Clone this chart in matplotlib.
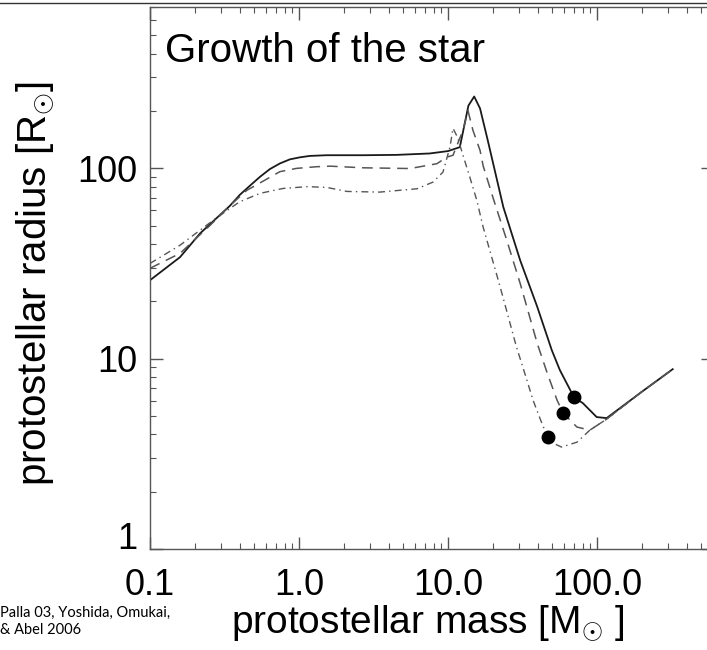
import matplotlib
matplotlib.use("Agg")
import matplotlib.pyplot as plt
from matplotlib.ticker import FixedLocator, FixedFormatter, NullFormatter, LogLocator
from matplotlib.lines import Line2D

plt.rcParams['font.family'] = ['Liberation Sans', 'DejaVu Sans']
plt.rcParams['mathtext.fontset'] = 'custom'
plt.rcParams['mathtext.rm'] = 'Liberation Sans'
plt.rcParams['mathtext.it'] = 'Liberation Sans:italic'

# ---- data ----
solid_mass = [0.1, 0.159, 0.217, 0.344, 0.401, 0.469, 0.548, 0.637, 0.744, 0.869, 1.01,
              1.18, 1.53, 2.69, 4.53, 7.53, 10.0, 12.0, 13.7, 14.98, 16.4, 18.4, 23.5,
              30.5, 39.7, 49.7, 56.3, 70, 80.4, 99.5, 116, 200, 322]
solid_radius = [25.8, 34.1, 45.5, 63.5, 72.5, 81, 90.2, 98.9, 105.9, 111.3, 114,
                116, 117, 117, 117.5, 119.5, 123, 129, 213, 238, 206, 142, 62.5,
                32.8, 18.7, 11.07, 8.7, 6.27, 5.83, 4.93, 4.87, 6.7, 8.8]

dashed_mass = [0.1, 0.159, 0.253, 0.345, 0.446, 0.591, 0.744, 0.963, 1.31, 1.62, 2.69,
               5.56, 8.42, 9.81, 10.8, 12.6, 13.6, 14.7, 16.4, 17.2, 20.3, 24.8, 30.5,
               39.7, 46.3, 53.9, 59.3, 73.3, 89.5, 116, 200, 322]
dashed_radius = [29.8, 35.7, 50.1, 63.8, 76.5, 86.6, 95.9, 99.8, 101.8, 102.5, 100.5,
                 99.6, 105.6, 114.3, 117, 158, 201, 158, 124, 103, 67.8, 41.8, 24.8,
                 12.0, 8.4, 6.05, 5.17, 4.37, 4.21, 4.81, 6.7, 8.8]

dashdot_mass = [0.1, 0.159, 0.265, 0.344, 0.401, 0.548, 0.783, 1.13, 1.53, 2.10, 3.48,
                6.2, 7.94, 9.25, 10.3, 10.8, 11.6, 12.6, 14.0, 15.6, 17.2, 21.1, 23.0,
                28.8, 31.8, 37.2, 42.6, 46.7, 50.6, 57.8, 73.3, 89.5, 116, 200, 322]
dashdot_radius = [31.6, 39.4, 53.2, 61.5, 66.7, 73.8, 78.3, 80, 79.3, 75.5, 74.9,
                  78.0, 84.6, 95.4, 129, 162, 145, 117, 89.8, 67.8, 49.1, 28.0, 22.0,
                  11.5, 9.0, 6.05, 4.58, 3.87, 3.60, 3.43, 3.64, 4.21, 4.81, 6.7, 8.8]

dot_mass = [70, 59.3, 46.7]
dot_radius = [6.27, 5.17, 3.87]

xtick_vals = [0.1, 1.0, 10.0, 100.0]
xtick_labels = ["0.1", "1.0", "10.0", "100.0"]
ytick_vals = [1, 10, 100]
ytick_labels = ["1", "10", "100"]

title_text = "Growth of the star"
xlabel_text = r"protostellar mass [M$_{\odot}$ ]"
ylabel_text = r"protostellar radius [R$_{\odot}$]"
credit_text = "Palla 03, Yoshida, Omukai,\n& Abel 2006"

# ---- figure ----
W, H = 707, 650
fig = plt.figure(figsize=(W / 100, H / 100), dpi=100)
left_px, right_px, top_px, bottom_px = 150, 713, 7.3, 549
ax = fig.add_axes([left_px / W, (H - bottom_px) / H,
                   (right_px - left_px) / W, (bottom_px - top_px) / H])

ax.set_xscale('log')
ax.set_yscale('log')
ax.set_xlim(0.1, 600)
ax.set_ylim(1, 700)

ax.plot(solid_mass, solid_radius, color='#1a1a1a', lw=1.3, ls='-')
ax.plot(dashed_mass, dashed_radius, color='#555555', lw=1.1, ls=(0, (7, 4.5)))
ax.plot(dashdot_mass, dashdot_radius, color='#555555', lw=1.0, ls=(0, (5, 3, 1, 3)))
ax.plot(dot_mass, dot_radius, ls='none', marker='o', ms=9, color='black')

for s in ax.spines.values():
    s.set_color('#555555')
    s.set_linewidth(1.0)

ax.xaxis.set_major_locator(FixedLocator(xtick_vals))
ax.xaxis.set_major_formatter(FixedFormatter(xtick_labels))
ax.yaxis.set_major_locator(FixedLocator(ytick_vals))
ax.yaxis.set_major_formatter(FixedFormatter(ytick_labels))
ax.xaxis.set_minor_locator(LogLocator(base=10, subs=range(2, 10), numticks=20))
ax.yaxis.set_minor_locator(LogLocator(base=10, subs=range(2, 10), numticks=20))
ax.xaxis.set_minor_formatter(NullFormatter())
ax.yaxis.set_minor_formatter(NullFormatter())

ax.tick_params(which='both', direction='in', top=True, right=True, color='#555555')
ax.tick_params(which='major', length=9, width=1.0)
ax.tick_params(which='minor', length=4.5, width=0.8)
ax.tick_params(axis='x', which='major', labelsize=26, pad=14)
ax.tick_params(axis='y', which='major', labelsize=26, pad=9)

for lab in ax.get_yticklabels():
    if lab.get_text() == "1":
        lab.set_va('baseline')

ax.set_xlabel(xlabel_text, fontsize=28)
ax.xaxis.set_label_coords(0.494, -0.101)
ax.set_ylabel(ylabel_text, fontsize=29)
ax.yaxis.set_label_coords(-0.167, 0.491)

ax.text(0.0266, 0.899, title_text, transform=ax.transAxes, fontsize=29,
        ha='left', va='baseline')

fig.text(0.0, 1 - 606 / H, credit_text, fontsize=10.5, family=['Lato', 'DejaVu Sans'],
         ha='left', va='top', linespacing=1.25)

fig.add_artist(Line2D([0, 1], [1 - 3.3 / H, 1 - 3.3 / H], transform=fig.transFigure,
                      color='#333333', lw=1.0))

fig.savefig('out.png', dpi=100)
